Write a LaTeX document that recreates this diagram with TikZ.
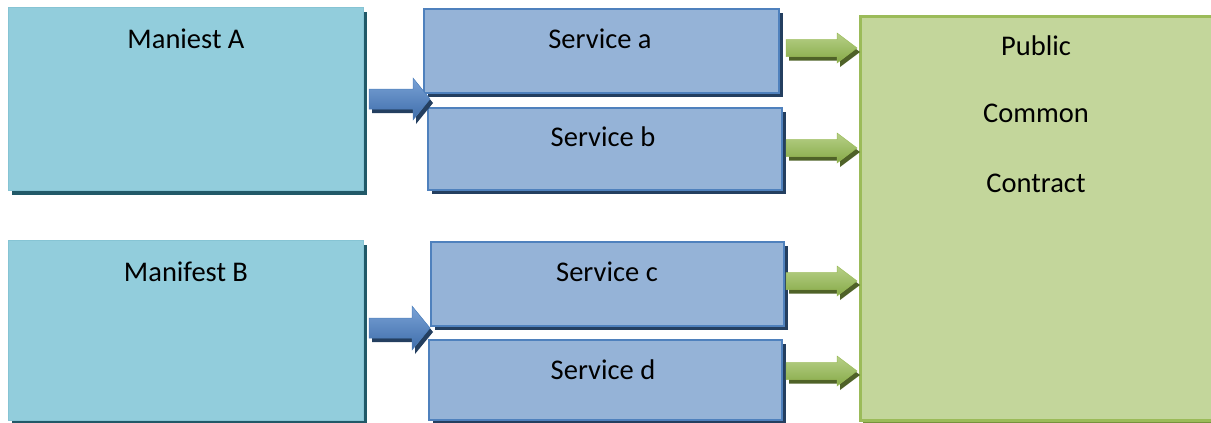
\documentclass[tikz,border=0pt]{standalone}
\usepackage{fontspec}
\setmainfont{Carlito}
\usetikzlibrary{shadows}
\definecolor{manfill}{HTML}{92CDDC}
\definecolor{manshadow}{HTML}{215968}
\definecolor{manedge}{HTML}{86C4D4}
\definecolor{svcfill}{HTML}{95B3D7}
\definecolor{svcedge}{HTML}{4F81BD}
\definecolor{svcshadow}{HTML}{243F60}
\definecolor{pubfill}{HTML}{C3D69B}
\definecolor{pubedge}{HTML}{9BBB59}
\definecolor{pubshadow}{HTML}{76923C}
\definecolor{blueTop}{HTML}{7AA2D6}
\definecolor{blueBot}{HTML}{3E6DAA}
\definecolor{blueShadow}{HTML}{243F60}
\definecolor{greenTop}{HTML}{B7D088}
\definecolor{greenBot}{HTML}{86AA47}
\definecolor{greenShadow}{HTML}{4F6228}
\tikzset{
  lbl/.style={font=\fontsize{28.5}{34}\selectfont, text=black, inner sep=0pt, anchor=mid},
  manbox/.style={anchor=north west, fill=manfill, draw=manedge, line width=0.8pt,
    drop shadow={shadow xshift=4pt, shadow yshift=-5pt, fill=manshadow, opacity=1}},
  svcbox/.style={anchor=north west, fill=svcfill, draw=svcedge, line width=2pt,
    drop shadow={shadow xshift=4pt, shadow yshift=-4pt, fill=svcshadow, opacity=1}},
  pubbox/.style={anchor=north west, fill=pubfill, draw=pubedge, line width=2.5pt,
    drop shadow={shadow xshift=3pt, shadow yshift=-3pt, fill=pubshadow, opacity=1}},
  bluearrow/.style={top color=blueTop, bottom color=blueBot, draw=svcedge, line width=0.5pt},
  greenarrow/.style={top color=greenTop, bottom color=greenBot, draw=pubedge, line width=0.5pt},
}
% #1 x start, #2 y centre, #3 x head base, #4 x tip, #5 shaft half, #6 head half, #7 style, #8 shadow colour
\newcommand\blockarr[8]{%
  \fill[#8] (#1+3,#2-#5+4) -- (#3+3,#2-#5+4) -- (#3+3,#2-#6+4) -- (#4+3,#2+4)
     -- (#3+3,#2+#6+4) -- (#3+3,#2+#5+4) -- (#1+3,#2+#5+4) -- cycle;
  \path[#7] (#1,#2-#5) -- (#3,#2-#5) -- (#3,#2-#6) -- (#4,#2)
     -- (#3,#2+#6) -- (#3,#2+#5) -- (#1,#2+#5) -- cycle;
}
\begin{document}
\begin{tikzpicture}[x=1pt,y=-1pt]
\useasboundingbox (0,0) rectangle (1211,423);
\clip (0,0) rectangle (1211,423);
% left boxes
\node[manbox, minimum width=355pt, minimum height=183pt] (A) at (8,7) {};
\node[manbox, minimum width=355pt, minimum height=180pt] (B) at (8,240) {};
\node[lbl] (At) at (186,46) {Maniest A};
\node[lbl] (Bt) at (186,279) {Manifest B};
% services
\node[svcbox, minimum width=355pt, minimum height=84pt] (Sa) at (423,8) {};
\node[svcbox, minimum width=354pt, minimum height=82pt] (Sb) at (427,107) {};
\node[svcbox, minimum width=353pt, minimum height=84pt] (Sc) at (430,241) {};
\node[svcbox, minimum width=353pt, minimum height=80pt] (Sd) at (428,339) {};
\node[lbl] (Sat) at (600,46) {Service a};
\node[lbl] (Sbt) at (603,144) {Service b};
\node[lbl] (Sct) at (607,279) {Service c};
\node[lbl] (Sdt) at (603,377) {Service d};
% public contract
\node[pubbox, minimum width=360pt, minimum height=404pt] (P) at (859,15) {};
\node[lbl] (P1) at (1036,53) {Public};
\node[lbl] (P2) at (1036,120) {Common};
\node[lbl] (P3) at (1036,190) {Contract};
% blue arrows
\blockarr{369}{99}{413}{430}{10}{21}{bluearrow}{blueShadow}
\blockarr{369}{328}{412}{430}{10}{22}{bluearrow}{blueShadow}
% green arrows
\blockarr{786}{48}{837}{857}{8.5}{15}{greenarrow}{greenShadow}
\blockarr{786}{148}{837}{857}{8.5}{15}{greenarrow}{greenShadow}
\blockarr{786}{281}{837}{857}{8.5}{15}{greenarrow}{greenShadow}
\blockarr{786}{371}{837}{857}{8.5}{15}{greenarrow}{greenShadow}
\end{tikzpicture}
\end{document}
